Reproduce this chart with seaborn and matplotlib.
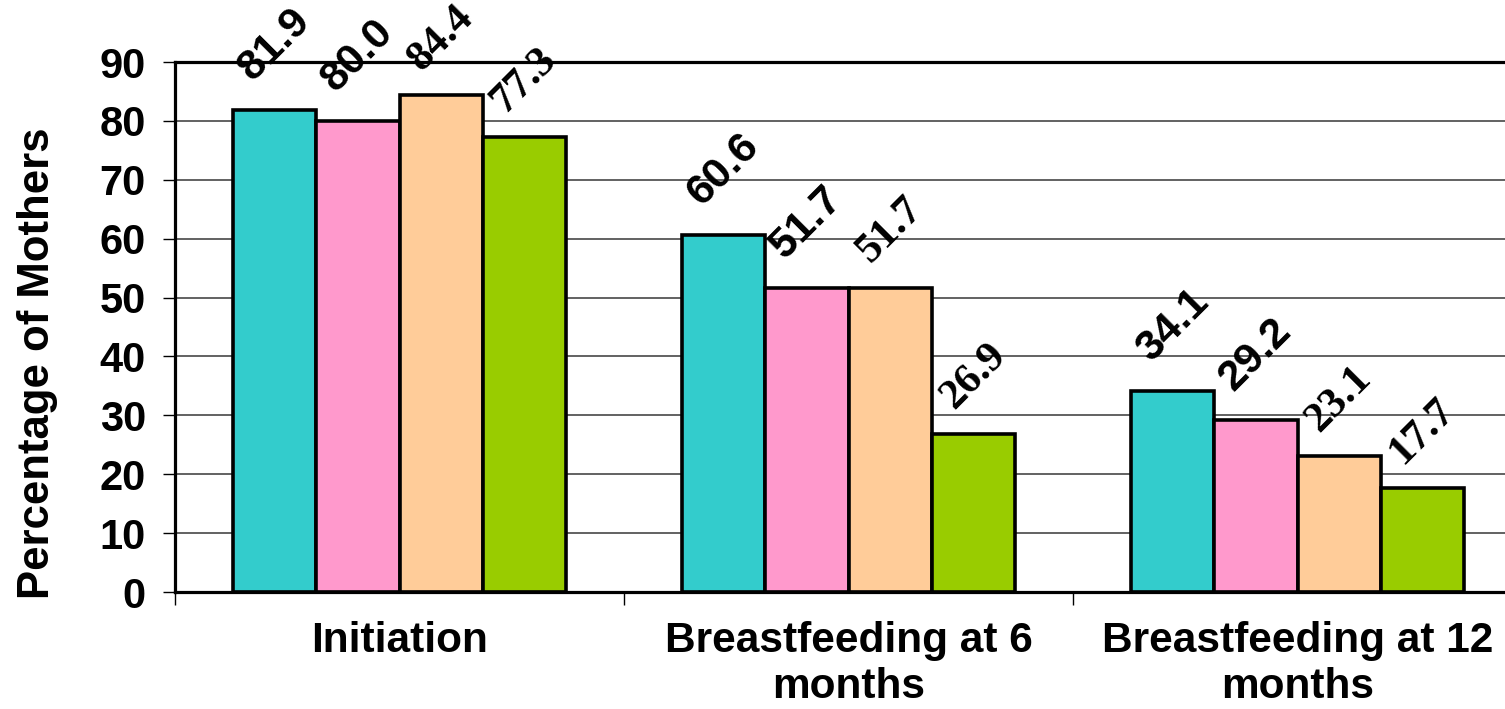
import matplotlib.pyplot as plt
import seaborn as sns
import pandas as pd
from matplotlib.ticker import FixedLocator

# DATA
categories = ["Initiation", "Breastfeeding at 6\nmonths", "Breastfeeding at 12\nmonths"]
series = ["Series 1", "Series 2", "Series 3", "Series 4"]
s1 = [81.9, 60.6, 34.1]
s2 = [80.0, 51.7, 29.2]
s3 = [84.4, 51.7, 23.1]
s4 = [77.3, 26.9, 17.7]
colors = ["#33CCCC", "#FF99CC", "#FFCC99", "#99CC00"]

rows = []
for name, vals in zip(series, [s1, s2, s3, s4]):
    for cat, v in zip(categories, vals):
        rows.append({"stage": cat, "group": name, "pct": v})
df = pd.DataFrame(rows)

sns.set_style("white")
plt.rcParams["font.family"] = ["Liberation Sans", "DejaVu Sans"]
plt.rcParams["font.weight"] = "bold"
plt.rcParams["text.color"] = "black"
plt.rcParams["axes.labelcolor"] = "black"
plt.rcParams["xtick.color"] = "black"
plt.rcParams["ytick.color"] = "black"

fig = plt.figure(figsize=(15.05, 7.09), dpi=100)
ax = fig.add_axes([0.1163, 0.165, 0.895, 0.7475])

sns.barplot(data=df, x="stage", y="pct", hue="group", order=categories,
            hue_order=series, palette=colors, width=0.742, gap=0,
            edgecolor="black", linewidth=2.6, saturation=1, ax=ax, legend=False)

ax.set_xlim(-0.5, 2.5)
ax.set_ylim(0, 90)
ax.set_yticks(range(0, 91, 10))
ax.yaxis.grid(True, color="#555555", linewidth=1.3)
ax.set_axisbelow(True)

for sp in ["left", "top", "bottom", "right"]:
    ax.spines[sp].set_color("black")
    ax.spines[sp].set_linewidth(2.3)

ax.tick_params(axis="y", direction="out", length=9, width=1, color="black",
               labelsize=30, pad=12, left=True)
ax.tick_params(axis="x", which="major", length=0, labelsize=30.5, pad=21)
ax.xaxis.set_minor_locator(FixedLocator([-0.5, 0.5, 1.5, 2.5]))
ax.tick_params(axis="x", which="minor", direction="out", length=9, width=1,
               color="black", bottom=True)
for lab in ax.get_xticklabels() + ax.get_yticklabels():
    lab.set_fontweight("bold")
    lab.set_color("black")
for lab in ax.get_xticklabels():
    lab.set_linespacing(1.18)

ax.set_xlabel("")
ax.set_ylabel("Percentage of Mothers", fontsize=31.5, fontweight="bold", color="black")
ax.yaxis.set_label_coords(-0.087, 0.432)

# value labels: first two series in sans, last two in serif
for i, cont in enumerate(ax.containers):
    if i < 2:
        fam, off = ["Liberation Sans", "DejaVu Sans"], 47
    else:
        fam, off = ["Liberation Serif", "DejaVu Serif"], 41
    for bar in cont:
        h = bar.get_height()
        ax.annotate(f"{h:.1f}", (bar.get_x() + bar.get_width() / 2, h),
                    xytext=(0, off), textcoords="offset points",
                    ha="center", va="center", rotation=45,
                    fontsize=31, fontweight="bold", family=fam, color="black",
                    annotation_clip=False)

fig.savefig("out.png", dpi=100)
